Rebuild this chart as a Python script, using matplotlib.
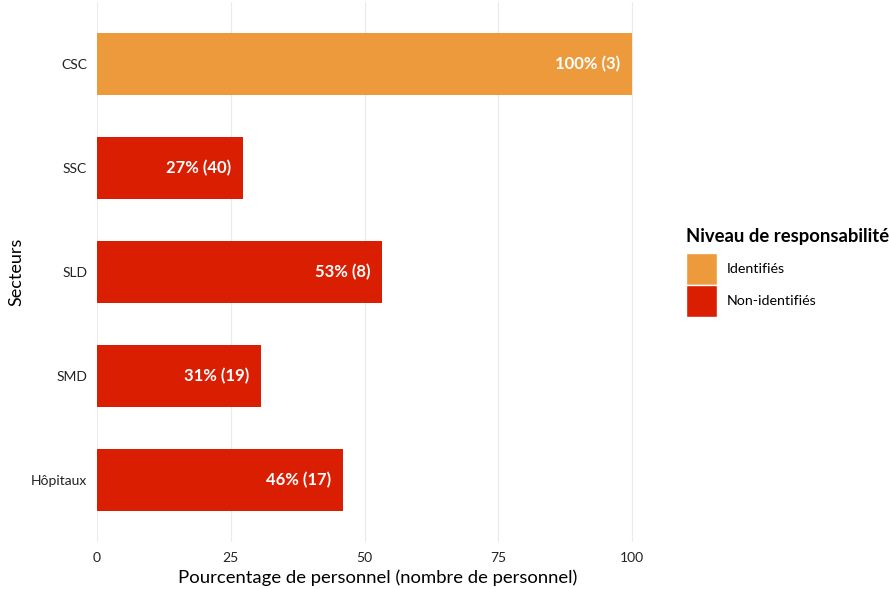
import matplotlib.pyplot as plt
from matplotlib.patches import Patch

plt.rcParams['font.family'] = ['Lato', 'DejaVu Sans']

secteurs = ["CSC", "SSC", "SLD", "SMD", "Hôpitaux"]
pourcentages = [100, 27.3, 53.3, 30.7, 46.0]
labels = ["100% (3)", "27% (40)", "53% (8)", "31% (19)", "46% (17)"]
niveau = ["Identifiés", "Non-identifiés", "Non-identifiés", "Non-identifiés", "Non-identifiés"]
couleurs = {"Identifiés": "#EC9A3B", "Non-identifiés": "#D91E02"}

W, H = 889, 589
fig = plt.figure(figsize=(W / 100, H / 100), dpi=100)
# panel in pixels: x 97..658.75 (0..105), y 1.6..542.4
ax = fig.add_axes([97 / W, 1 - 542.4 / H, (658.75 - 97) / W, (542.4 - 1.6) / H])

ypos = list(range(len(secteurs)))[::-1]
for y, v, lab, niv in zip(ypos, pourcentages, labels, niveau):
    ax.barh(y, v, height=0.6, color=couleurs[niv], zorder=2)
    ax.text(v - 2.2, y, lab, ha="right", va="center", color="white",
            fontsize=12, fontweight="bold", zorder=3)

ax.set_xlim(0, 105)
ax.set_ylim(-0.6, len(secteurs) - 0.4)
ax.set_yticks(ypos)
ax.set_yticklabels(secteurs)
ax.set_xticks([0, 25, 50, 75, 100])
ax.tick_params(length=0, labelsize=10, colors="#222222", pad=7)
ax.grid(axis="x", color="#EBEBEB", linewidth=0.8, zorder=0)
ax.set_axisbelow(True)
for s in ax.spines.values():
    s.set_visible(False)

ax.set_xlabel("Pourcentage de personnel (nombre de personnel)", fontsize=13.3, labelpad=4)
ax.set_ylabel("Secteurs", fontsize=13, labelpad=5)

handles = [Patch(facecolor=couleurs[k], edgecolor="white", label=k) for k in couleurs]
leg = fig.legend(handles=handles, title="Niveau de responsabilité",
                 loc="upper left", bbox_to_anchor=(683 / W, 1 - 225 / H),
                 frameon=False, fontsize=10.3, title_fontsize=13.3,
                 handlelength=2.15, handleheight=3.05, handletextpad=0.7,
                 labelspacing=0.0, borderpad=0.2, borderaxespad=0)
leg.get_title().set_fontweight("bold")
leg._legend_box.align = "left"
leg._legend_box.sep = 6

fig.savefig("out.png", dpi=100)
